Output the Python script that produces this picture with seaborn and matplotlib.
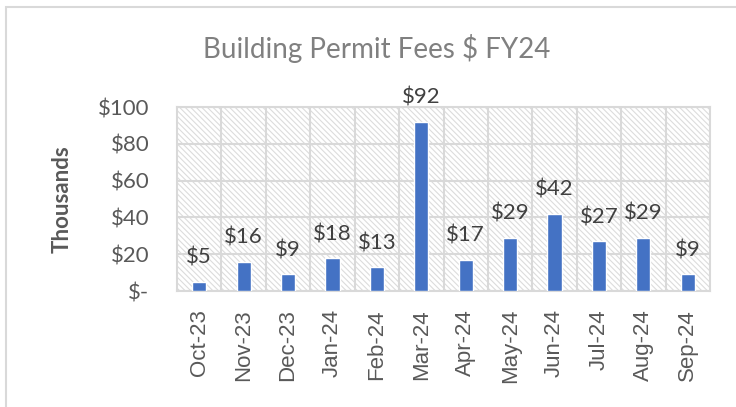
import matplotlib
matplotlib.use("Agg")
import matplotlib.pyplot as plt
from matplotlib.patches import Rectangle
import seaborn as sns
import pandas as pd

# data (thousands of $)
months = ["Oct-23", "Nov-23", "Dec-23", "Jan-24", "Feb-24", "Mar-24",
          "Apr-24", "May-24", "Jun-24", "Jul-24", "Aug-24", "Sep-24"]
fees = [5, 16, 9, 18, 13, 92, 17, 29, 42, 27, 29, 9]
yticks = [0, 20, 40, 60, 80, 100]
ytick_labels = ["$-", "$20", "$40", "$60", "$80", "$100"]

df = pd.DataFrame({"Month": months, "Fees": fees})

sns.set_style("white")
plt.rcParams["font.family"] = ["Lato", "DejaVu Sans"]
plt.rcParams["hatch.linewidth"] = 0.8

grid_c = "#d9d9d9"
fig = plt.figure(figsize=(7.36, 4.07), dpi=100)
ax = fig.add_axes([0.2405, 0.285, 0.7242, 0.452])

# hatched plot area like the Excel chart
ax.patch.set_facecolor("white")
ax.patch.set_edgecolor("#dcdcdc")
ax.patch.set_hatch("\\" * 6)

sns.barplot(data=df, x="Month", y="Fees", color="#4472C4", width=0.32,
            saturation=1, ax=ax, zorder=3)

ax.set_xlim(-0.5, len(months) - 0.5)
ax.set_ylim(0, 100)
ax.set_yticks(yticks)
ax.set_yticklabels(ytick_labels)
ax.set_xticks(range(len(months)))
ax.set_xticklabels(months, rotation=90, family=["Liberation Sans", "DejaVu Sans"])
ax.set_xticks([i + 0.5 for i in range(len(months) - 1)], minor=True)

ax.set_axisbelow(True)
ax.grid(axis="y", which="major", color=grid_c, linewidth=1.5)
ax.grid(axis="x", which="minor", color=grid_c, linewidth=1.5)
ax.tick_params(axis="both", which="both", length=0, colors="#595959", labelsize=16)
ax.tick_params(axis="y", pad=20)
ax.tick_params(axis="x", pad=13)
for s in ax.spines.values():
    s.set_color(grid_c)
    s.set_linewidth(1.5)

ax.set_xlabel("")
ax.set_ylabel("Thousands", fontsize=16, fontweight="bold", color="#595959", labelpad=18)

for i, v in enumerate(fees):
    ax.annotate(f"${v}", (i, v), xytext=(0, 10), textcoords="offset points",
                ha="center", va="bottom", fontsize=16, color="#404040")

fig.text(0.512, 0.882, "Building Permit Fees $ FY24", ha="center", va="center",
         fontsize=20, color="#808080")

# chart border (cut off on right and bottom)
fig.add_artist(Rectangle((6 / 736, -0.1), 1.2, 1.1 - 7 / 407, transform=fig.transFigure,
                         fill=False, edgecolor=grid_c, linewidth=1.5))

fig.savefig("out.png", dpi=100)
